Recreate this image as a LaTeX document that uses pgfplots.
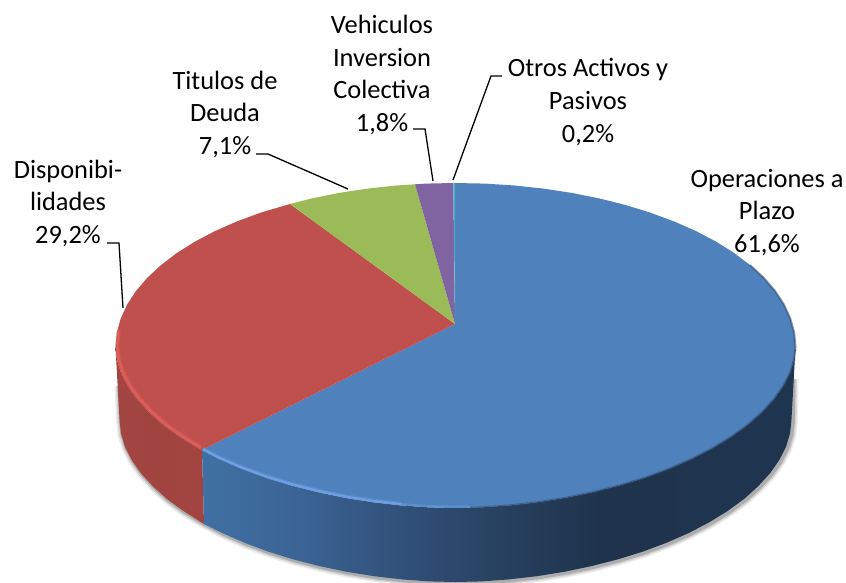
\documentclass[border=0pt]{standalone}
\usepackage{pgfplots}
\usepackage{pgfplotstable}
\usepackage{fontspec}
\setmainfont{Carlito}
\pgfplotsset{compat=1.18}
\pgfdeclarehorizontalshading{bluefront}{100bp}{rgb(0bp)=(0.25,0.44,0.64);rgb(25bp)=(0.25,0.44,0.64);rgb(33.3bp)=(0.23,0.39,0.58);rgb(40bp)=(0.20,0.33,0.50);rgb(50bp)=(0.155,0.255,0.375);rgb(58.6bp)=(0.12,0.20,0.30);rgb(75bp)=(0.12,0.205,0.31);rgb(100bp)=(0.12,0.205,0.31)}
\pgfdeclarehorizontalshading{redfront}{100bp}{rgb(0bp)=(0.64,0.275,0.26);rgb(25bp)=(0.64,0.275,0.26);rgb(50bp)=(0.63,0.265,0.25);rgb(75bp)=(0.64,0.265,0.25);rgb(100bp)=(0.64,0.265,0.25)}
\definecolor{cblue}{HTML}{4F81BD}
\definecolor{cred}{HTML}{C0504D}
\definecolor{cgreen}{HTML}{9BBB59}
\definecolor{cpurple}{HTML}{8064A2}
\definecolor{cteal}{HTML}{4BACC6}
\definecolor{rimred}{HTML}{DE5E5A}
\definecolor{rimblue}{HTML}{6CA0E2}
\pgfplotstableread{
x y
792 378
791.4 421
790 433.4
786.1 446.6
779.4 459.9
770.1 473.2
758.2 486.2
744.3 498.8
727.9 510.8
709.4 522.2
689 532.9
666.7 542.7
642.9 551.6
617.7 559.4
591.4 566.1
564.4 571.8
536.7 576.2
509 579.4
481.4 581.4
455.5 582
429.6 581.4
402 579.4
374.3 576.2
346.6 571.8
319.6 566.1
293.3 559.4
268.1 551.6
244.3 542.7
222 532.9
201.6 522.2
183.1 510.8
166.7 498.8
152.8 486.2
140.9 473.2
131.6 459.9
124.9 446.6
121 433.4
119.6 421
118 385
}\shadowline
\begin{document}
\begin{tikzpicture}
\begin{axis}[
  at={(0,0)},anchor=south west,
  scale only axis,width=846pt,height=582pt,
  xmin=0,xmax=846,ymin=0,ymax=582,y dir=reverse,
  hide axis,
]
% soft shadow
\addplot[draw=black,opacity=0.07,line width=10pt,line join=round,xshift=1.5pt,yshift=-1pt] table {\shadowline};
\addplot[draw=black,opacity=0.11,line width=7pt,line join=round,xshift=1.5pt,yshift=-1pt] table {\shadowline};
\addplot[draw=black,opacity=0.18,line width=4pt,line join=round,xshift=1.5pt,yshift=-1pt] table {\shadowline};
% red side
\addplot[draw=none,shade,shading=redfront,shading angle=0] coordinates {
(202,450)(198.5,448.2)(179.8,436.8)(163.2,424.8)(149.1,412.2)(137.1,399.2)(127.7,385.9)(120.9,372.6)(116.9,359.4)(115.5,347)
(119.6,421)(121,433.4)(124.9,446.6)(131.6,459.9)(140.9,473.2)(152.8,486.2)(166.7,498.8)(183.1,510.8)(204,524)};
% blue side
\addplot[draw=none,shade,shading=bluefront,shading angle=0] coordinates {
(202,450)(219.2,458.9)(241.7,468.7)(265.8,477.6)(291.3,485.4)(317.9,492.1)(345.3,497.8)(373.3,502.2)(401.4,505.4)(429.3,507.4)(455.5,508)
(481.7,507.4)(509.6,505.4)(537.7,502.2)(565.7,497.8)(593.1,492.1)(619.7,485.4)(645.2,477.6)(669.3,468.7)(691.8,458.9)(712.5,448.2)(731.2,436.8)(747.8,424.8)(761.9,412.2)(773.9,399.2)(783.3,385.9)(790.1,372.6)(794.1,359.4)(795.5,347)
(791.4,421)(790,433.4)(786.1,446.6)(779.4,459.9)(770.1,473.2)(758.2,486.2)(744.3,498.8)(727.9,510.8)(709.4,522.2)(689,532.9)(666.7,542.7)(642.9,551.6)(617.7,559.4)(591.4,566.1)(564.4,571.8)(536.7,576.2)(509,579.4)(481.4,581.4)(455.5,582)
(429.6,581.4)(402,579.4)(374.3,576.2)(346.6,571.8)(319.6,566.1)(293.3,559.4)(268.1,551.6)(244.3,542.7)(222,532.9)(204,524)};
% top: blue 61.6
\addplot[draw=none,fill=cblue] coordinates {
(455,324)(455,183)(485.1,183.6)(514.5,185.5)(543.5,188.6)(571.8,192.9)(599.2,198.4)(625.5,205)(650.5,212.7)(674,221.4)(695.9,231)(716,241.6)(734,252.9)(749.9,265)(763.6,277.7)(775,290.9)(783.9,304.6)(790.3,318.5)(794.2,332.7)(795.5,347)
(794.1,359.4)(790.1,372.6)(783.3,385.9)(773.9,399.2)(761.9,412.2)(747.8,424.8)(731.2,436.8)(712.5,448.2)(691.8,458.9)(669.3,468.7)(645.2,477.6)(619.7,485.4)(593.1,492.1)(565.7,497.8)(537.7,502.2)(509.6,505.4)(481.7,507.4)(455.5,508)
(429.3,507.4)(401.4,505.4)(373.3,502.2)(345.3,497.8)(317.9,492.1)(291.3,485.4)(265.8,477.6)(241.7,468.7)(219.2,458.9)(202,450)};
% top: red 29.2
\addplot[draw=none,fill=cred] coordinates {
(455,324)(202,450)(198.5,448.2)(179.8,436.8)(163.2,424.8)(149.1,412.2)(137.1,399.2)(127.7,385.9)(120.9,372.6)(116.9,359.4)(115.5,347)
(116.8,332.7)(120.7,318.5)(127.1,304.6)(136,290.9)(147.4,277.7)(161.1,265)(177,252.9)(195,241.6)(215.1,231)(237,221.4)(260.5,212.7)(290,204)};
% top: green 7.1
\addplot[draw=none,fill=cgreen] coordinates {
(455,324)(290,204)(311.8,198.4)(339.2,192.9)(367.5,188.6)(396.5,185.5)(415,184.3)};
% top: purple 1.8
\addplot[draw=none,fill=cpurple] coordinates {
(455,324)(415,184.3)(425.9,183.6)(453.3,183)};
% top: teal 0.2
\addplot[draw=none,fill=cteal] coordinates {
(455,324)(453.3,183)(455,183)};
% rim highlights
\addplot[draw=rimred,opacity=0.35,line width=4.5pt,line cap=round,xshift=2pt,yshift=1.4pt] coordinates {
(116.8,332.7)(115.5,347)(116.9,359.4)(120.9,372.6)(127.7,385.9)(137.1,399.2)(149.1,412.2)(163.2,424.8)(179.8,436.8)(198.5,448.2)};
\addplot[draw=rimred,line width=2.2pt,line cap=round,xshift=1.8pt,yshift=1.2pt] coordinates {
(116.8,332.7)(115.5,347)(116.9,359.4)(120.9,372.6)(127.7,385.9)(137.1,399.2)(149.1,412.2)(163.2,424.8)(179.8,436.8)(198.5,448.2)};
\addplot[draw=rimblue,opacity=0.35,line width=4pt,yshift=1.6pt] coordinates {
(203,450.5)(219.2,458.9)(241.7,468.7)(265.8,477.6)(291.3,485.4)(317.9,492.1)(345.3,497.8)(373.3,502.2)(401.4,505.4)};
\addplot[draw=rimblue,line width=2.2pt,yshift=1.3pt] coordinates {
(203,450.5)(219.2,458.9)(241.7,468.7)(265.8,477.6)(291.3,485.4)(317.9,492.1)(345.3,497.8)(373.3,502.2)(401.4,505.4)};
\addplot[draw=rimblue,opacity=0.5,line width=2pt,yshift=1.3pt] coordinates {
(401.4,505.4)(429.3,507.4)(455.5,508)(470,507.8)};
% dark soft edge, front and right
\addplot[draw=cblue!55!black,opacity=0.55,line width=2pt] coordinates {
(470,507.8)(481.7,507.4)(509.6,505.4)(537.7,502.2)(565.7,497.8)(593.1,492.1)(619.7,485.4)(645.2,477.6)(669.3,468.7)(691.8,458.9)(712.5,448.2)(731.2,436.8)(747.8,424.8)(761.9,412.2)(773.9,399.2)(783.3,385.9)(790.1,372.6)(794.1,359.4)(795.5,347)(794.2,332.7)(790.3,318.5)(783.9,304.6)(775,290.9)(763.6,277.7)(749.9,265)};
% leader lines
\addplot[draw=black,line width=1.3pt] coordinates {(107,243)(119,243)(123,308)};
\addplot[draw=black,line width=1.3pt] coordinates {(256,154)(268,154)(348,189)};
\addplot[draw=black,line width=1.3pt] coordinates {(413,129)(425,129)(433,181)};
\addplot[draw=black,line width=1.3pt] coordinates {(502,76)(491,76)(453,180)};
% labels
\tikzset{lbl/.style={align=center,font=\fontsize{26.4}{32.7}\selectfont,inner sep=0pt,text=black}}
\node[lbl] at (axis cs:382,75) {Vehiculos\\Inversion\\Colectiva\\1,8\%};
\node[lbl] at (axis cs:588,102) {Otros Activos y\\Pasivos\\0,2\%};
\node[lbl] at (axis cs:225,114.5) {Titulos de\\Deuda\\7,1\%};
\node[lbl] at (axis cs:68,203.5) {Disponibi-\\lidades\\29,2\%};
\node[lbl] at (axis cs:767,212.5) {Operaciones a\\Plazo\\61,6\%};
\end{axis}
\useasboundingbox (0,0) rectangle (846pt,582pt);
\end{tikzpicture}
\end{document}
